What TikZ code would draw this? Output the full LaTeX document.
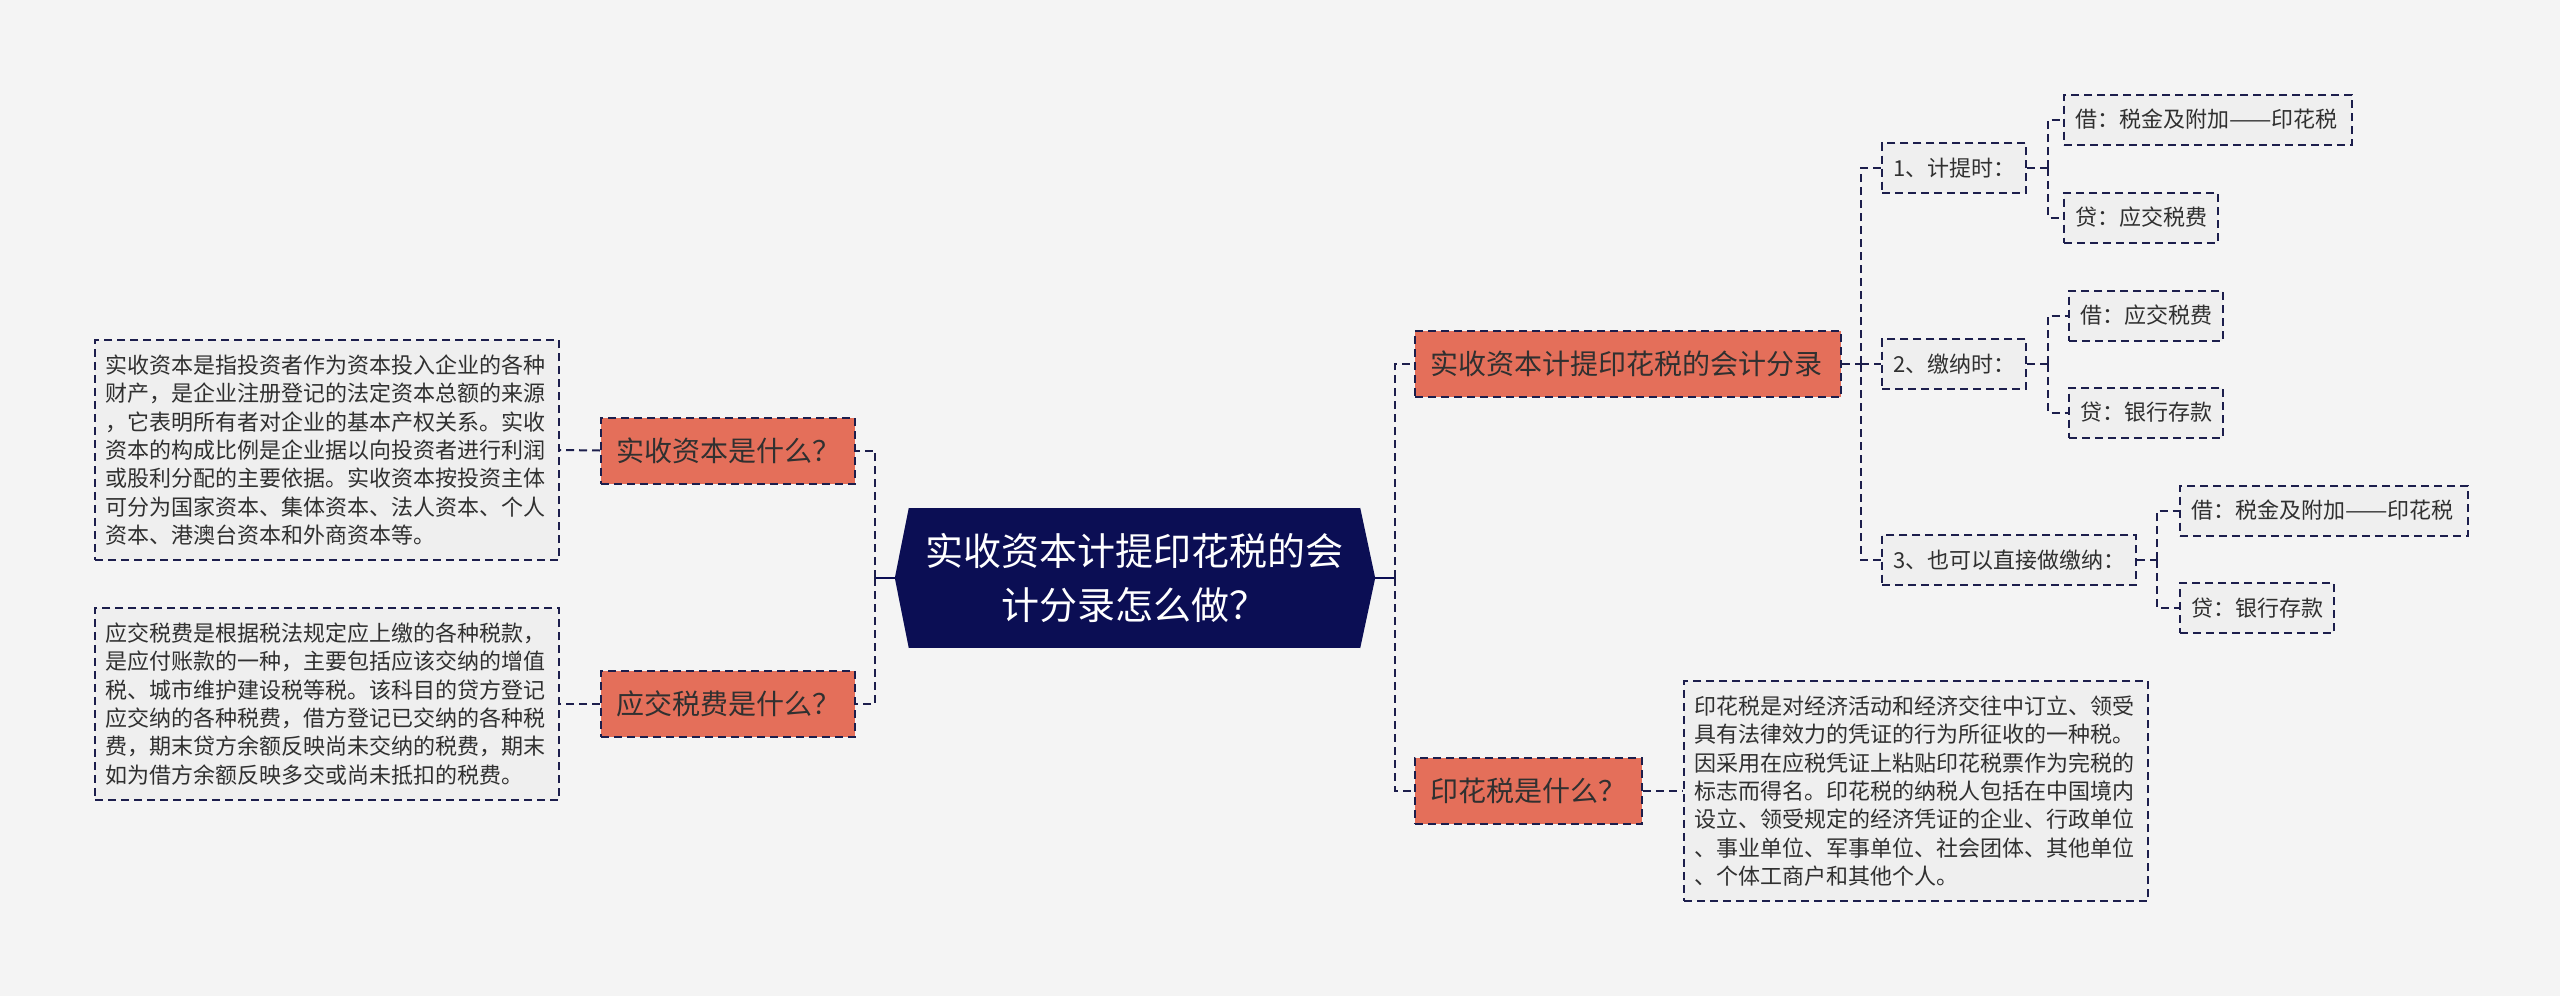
\documentclass[tikz,border=0pt]{standalone}
\usepackage{fontspec}
\newfontfamily\cjk{Noto Sans CJK SC}
\usetikzlibrary{calc}
\definecolor{bgC}{HTML}{F4F4F4}
\definecolor{leafC}{HTML}{EFEFEF}
\definecolor{orC}{HTML}{E46F5A}
\definecolor{navyC}{HTML}{0B0E54}
\definecolor{lnC}{HTML}{1C1E4C}
\definecolor{txC}{HTML}{303030}
\begin{document}
\begin{tikzpicture}[x=1pt,y=-1pt,
  dsh/.style={line width=2pt, draw=lnC, dash pattern=on 8pt off 5pt},
  conn/.style={dsh},
  stub/.style={line width=2.5pt, draw=navyC},
  leafbox/.style={dsh, fill=leafC, text=txC, font={\cjk\fontsize{22}{28.3}\selectfont}, align=left, text width=444pt, inner xsep=10pt, inner ysep=0pt, anchor=west},
  subbox/.style={dsh, fill=leafC, text=txC, font={\cjk\fontsize{22}{26}\selectfont}, inner xsep=11pt, inner ysep=0pt, minimum height=50pt, anchor=west},
  mainbox/.style={dsh, fill=orC, text=txC, font={\cjk\fontsize{28}{32}\selectfont}, inner xsep=15pt, inner ysep=0pt, minimum height=66pt, align=left, anchor=west},
  centerbox/.style={fill=navyC, text=white, minimum width=451pt, minimum height=140pt, inner sep=0pt, align=center, font={\cjk\fontsize{38}{54}\selectfont}}
  ]
\useasboundingbox (0,0) rectangle (2560,996);
\fill[bgC] (0,0) rectangle (2560,996);

% center
\node[centerbox] (c) at (1134.5,578) {实收资本计提印花税的会\\计分录怎么做？};
\fill[navyC] (c.north east) -- ($(c.east)+(15,0)$) -- (c.south east) -- cycle;
\fill[navyC] (c.north west) -- ($(c.west)+(-14,0)$) -- (c.south west) -- cycle;
\coordinate (cE) at ($(c.east)+(15,0)$);
\coordinate (cW) at ($(c.west)+(-14,0)$);
\coordinate (lbus) at (875,578);
\coordinate (rbus) at (1395,578);

% left main nodes
\node[mainbox, text width=224pt] (m1) at (600,450.5) {实收资本是什么？};
\node[mainbox, text width=224pt] (m2) at (600,704) {应交税费是什么？};

% left leaves
\node[leafbox, minimum height=220pt] (l1) at (94,450) {实收资本是指投资者作为资本投入企业的各种\\财产，是企业注册登记的法定资本总额的来源\\，它表明所有者对企业的基本产权关系。实收\\资本的构成比例是企业据以向投资者进行利润\\或股利分配的主要依据。实收资本按投资主体\\可分为国家资本、集体资本、法人资本、个人\\资本、港澳台资本和外商资本等。};
\node[leafbox, minimum height=192pt] (l2) at (94,704) {应交税费是根据税法规定应上缴的各种税款，\\是应付账款的一种，主要包括应该交纳的增值\\税、城市维护建设税等税。该科目的贷方登记\\应交纳的各种税费，借方登记已交纳的各种税\\费，期末贷方余额反映尚未交纳的税费，期末\\如为借方余额反映多交或尚未抵扣的税费。};

% right main nodes
\node[mainbox, text width=396pt] (r1) at (1414,364) {实收资本计提印花税的会计分录};
\node[mainbox, text width=197pt] (r2) at (1414,791) {印花税是什么？};

% right leaf
\node[leafbox, minimum height=220pt] (l3) at (1683,791) {印花税是对经济活动和经济交往中订立、领受\\具有法律效力的凭证的行为所征收的一种税。\\因采用在应税凭证上粘贴印花税票作为完税的\\标志而得名。印花税的纳税人包括在中国境内\\设立、领受规定的经济凭证的企业、行政单位\\、事业单位、军事单位、社会团体、其他单位\\、个体工商户和其他个人。};

% sub nodes
\node[subbox] (s1) at (1881,168) {1、计提时：};
\node[subbox] (s2) at (1881,364) {2、缴纳时：};
\node[subbox] (s3) at (1881,560) {3、也可以直接做缴纳：};

\node[subbox, text width=266pt, align=left] (s1a) at (2063,119.5) {借：税金及附加\scalebox{1.15}[1]{——}印花税};
\node[subbox] (s1b) at (2063,217.5) {贷：应交税费};
\node[subbox] (s2a) at (2068,315.5) {借：应交税费};
\node[subbox] (s2b) at (2068,412.5) {贷：银行存款};
\node[subbox, text width=266pt, align=left] (s3a) at (2179,510.5) {借：税金及附加\scalebox{1.15}[1]{——}印花税};
\node[subbox] (s3b) at (2179,608) {贷：银行存款};

\coordinate (bus2) at (1861,364);
\coordinate (b1) at ($(s1.east)+(21,0)$);
\coordinate (b2) at ($(s2.east)+(21,0)$);
\coordinate (b3) at ($(s3.east)+(20,0)$);

% connectors
\draw[stub] (cW) -- (lbus);
\draw[stub] (cE) -- (rbus);
\draw[conn] (lbus) |- (m1.east);
\draw[conn] (lbus) |- (m2.east);
\draw[conn] (m1.west) -- (l1.east);
\draw[conn] (m2.west) -- (l2.east);
\draw[conn] (rbus) |- (r1.west);
\draw[conn] (rbus) |- (r2.west);
\draw[conn] (r2.east) -- (l3.west);
\draw[conn] (r1.east) -- (bus2);
\draw[conn] (bus2) |- (s1.west);
\draw[conn] (bus2) -- (s2.west);
\draw[conn] (bus2) |- (s3.west);
\draw[conn] (s1.east) -- (b1);
\draw[conn] (b1) |- (s1a.west);
\draw[conn] (b1) |- (s1b.west);
\draw[conn] (s2.east) -- (b2);
\draw[conn] (b2) |- (s2a.west);
\draw[conn] (b2) |- (s2b.west);
\draw[conn] (s3.east) -- (b3);
\draw[conn] (b3) |- (s3a.west);
\draw[conn] (b3) |- (s3b.west);
\end{tikzpicture}
\end{document}
